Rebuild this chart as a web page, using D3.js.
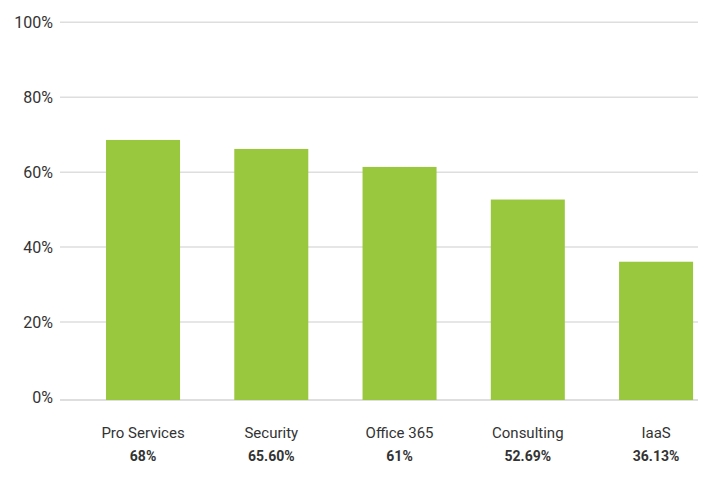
<!DOCTYPE html>
<html><head><meta charset="utf-8">
<script src="https://cdn.jsdelivr.net/npm/d3@7"></script>
<style>
html,body{margin:0;padding:0;background:#fff;}
svg{display:block;font-family:Roboto,"Open Sans",sans-serif;}
</style></head>
<body><svg id="c" width="716" height="485"></svg>
<script>
const categories = ["Pro Services","Security","Office 365","Consulting","IaaS"];
const values = [68.6, 66.2, 61.4, 52.7, 36.1];
const valueLabels = ["68%","65.60%","61%","52.69%","36.13%"];
const yTicks = [0,20,40,60,80,100];

const svg = d3.select("#c");
const y = d3.scaleLinear().domain([0,100]).range([397,22.3]);
const x = d3.scaleBand().domain(categories).range([78.9,720.2]).paddingInner(0.423).paddingOuter(0.2115);
const baseY = 400;

// gridlines
svg.append("g").selectAll("line").data(yTicks.filter(d=>d>0)).join("line")
  .attr("x1",60).attr("x2",698)
  .attr("y1",d=>y(d)).attr("y2",d=>y(d))
  .attr("stroke","#dedede").attr("stroke-width",1.5);
svg.append("line").attr("x1",60).attr("x2",698).attr("y1",baseY).attr("y2",baseY)
  .attr("stroke","#dedede").attr("stroke-width",2);

// y axis labels
const yAxis = d3.axisLeft(y).tickValues(yTicks).tickFormat(d=>d+"%").tickSize(0).tickPadding(0);
const ga = svg.append("g").attr("transform","translate(53,0)").call(yAxis);
ga.select(".domain").remove();
ga.selectAll("text").attr("font-size",16).attr("fill","#333").attr("font-family","Roboto,sans-serif");

// bars
svg.append("g").selectAll("rect").data(categories).join("rect")
  .attr("x",d=>x(d)).attr("width",x.bandwidth())
  .attr("y",(d,i)=>y(values[i])).attr("height",(d,i)=>baseY-y(values[i]))
  .attr("fill","#99c73e");

// category labels
svg.append("g").selectAll("text").data(categories).join("text")
  .attr("x",d=>x(d)+x.bandwidth()/2).attr("y",438)
  .attr("text-anchor","middle").attr("font-size",15).attr("fill","#333")
  .text(d=>d);
svg.append("g").selectAll("text").data(categories).join("text")
  .attr("x",d=>x(d)+x.bandwidth()/2).attr("y",461)
  .attr("text-anchor","middle").attr("font-size",14).attr("font-weight","bold").attr("fill","#333")
  .text((d,i)=>valueLabels[i]);
</script></body></html>
